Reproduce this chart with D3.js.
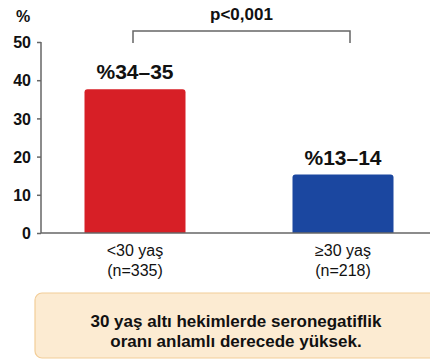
<!DOCTYPE html>
<html><head><meta charset="utf-8">
<script src="https://cdn.jsdelivr.net/npm/d3@7"></script>
<style>body{margin:0;background:#fff;}svg{display:block;font-family:"Liberation Sans",Arial,sans-serif;}</style>
</head><body>
<svg id="c" width="430" height="359"></svg>
<script>
const categories = ["<30 yaş", "≥30 yaş"];
const sampleLabels = ["(n=335)", "(n=218)"];
const values = [37.6, 15.3];
const valueLabels = ["%34–35", "%13–14"];
const barColors = ["#D71F26", "#1B47A0"];
const yTicks = [0, 10, 20, 30, 40, 50];
const pText = "p<0,001";
const noteLines = ["30 yaş altı hekimlerde seronegatiflik", "oranı anlamlı derecede yüksek."];

const svg = d3.select("#c");
const y = d3.scaleLinear().domain([0, 50]).range([233, 42]);
const x = d3.scalePoint().domain(categories).range([135, 343]);

// y axis
const yAxis = d3.axisLeft(y).tickValues(yTicks).tickSize(4).tickPadding(6);
const ga = svg.append("g").attr("transform", "translate(41,0)").call(yAxis);
ga.select(".domain").attr("stroke", "#666").attr("stroke-width", 1.5).attr("d", "M0," + y(50) + "V" + y(0));
ga.selectAll(".tick line").attr("stroke", "#666").attr("stroke-width", 1.5);
ga.selectAll(".tick text").attr("fill", "#111").attr("font-size", 16).attr("font-weight", "bold").attr("dy", "0.36em");

svg.append("text").attr("x", 23).attr("y", 22).attr("text-anchor", "middle")
  .attr("font-size", 16).attr("font-weight", "bold").attr("fill", "#111").text("%");

// bars
const bw = 101;
categories.forEach((c, i) => {
  const cx = x(c);
  const x0 = cx - bw / 2, yt = y(values[i]), yb = y(0), r = 3;
  svg.append("path").attr("fill", barColors[i])
    .attr("d", `M${x0},${yb}V${yt + r}Q${x0},${yt} ${x0 + r},${yt}H${x0 + bw - r}Q${x0 + bw},${yt} ${x0 + bw},${yt + r}V${yb}Z`);
  svg.append("text").attr("x", cx).attr("y", yt - 10).attr("text-anchor", "middle")
    .attr("font-size", 21).attr("font-weight", "bold").attr("fill", "#111").text(valueLabels[i]);
  svg.append("text").attr("x", cx).attr("y", 256).attr("text-anchor", "middle")
    .attr("font-size", 16).attr("fill", "#111").text(categories[i]);
  svg.append("text").attr("x", cx).attr("y", 276).attr("text-anchor", "middle")
    .attr("font-size", 16).attr("fill", "#111").text(sampleLabels[i]);
});

// x baseline
svg.append("line").attr("x1", 41).attr("x2", 430).attr("y1", y(0)).attr("y2", y(0))
  .attr("stroke", "#666").attr("stroke-width", 1.5);

// significance bracket
const bx1 = x(categories[0]) - 2, bx2 = x(categories[1]) + 7;
svg.append("path").attr("fill", "none").attr("stroke", "#666").attr("stroke-width", 1.5)
  .attr("d", `M${bx1},43V31H${bx2}V43`);
svg.append("text").attr("x", (bx1 + bx2) / 2).attr("y", 20).attr("text-anchor", "middle")
  .attr("font-size", 17).attr("font-weight", "bold").attr("fill", "#111").text(pText);

// note box
svg.append("rect").attr("x", 35).attr("y", 293).attr("width", 410).attr("height", 65).attr("rx", 7)
  .attr("fill", "#FCEBD2").attr("stroke", "#F2CD98").attr("stroke-width", 1.2);
noteLines.forEach((t, i) => {
  svg.append("text").attr("x", 236).attr("y", 327 + i * 20).attr("text-anchor", "middle")
    .attr("font-size", 17).attr("font-weight", "bold").attr("fill", "#111").text(t);
});
</script>
</body></html>
